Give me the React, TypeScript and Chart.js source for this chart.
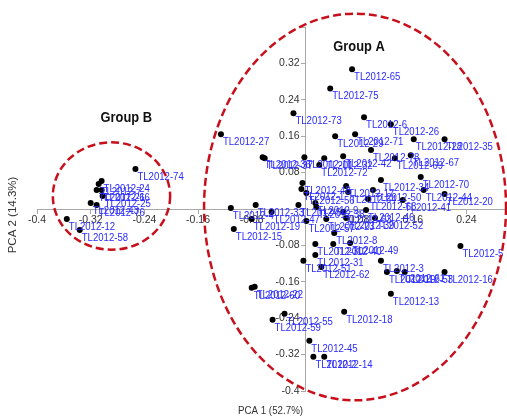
import { useEffect, useRef } from "react";
import { Chart, registerables } from "chart.js";

Chart.register(...registerables);

// ---- data (PCA scores) ----
const LABELS = [
  "TL2012-65", "TL2012-75", "TL2012-73", "TL2012-6", "TL2012-26", "TL2012-27", "TL2012-29", "TL2012-71",
  "TL2012-28", "TL2012-35", "TL2012-78", "TL2012-67", "TL2012-69", "TL2012-36", "TL2012-37", "TL2012-11",
  "TL2012-32", "TL2012-42", "TL2012-72", "TL2012-34", "TL2012-70", "TL2012-44", "TL2012-20", "TL2012-41",
  "TL2012-50", "TL2012-68", "TL2012-17", "TL2012-64", "TL2012-48", "TL2012-56", "TL2012-1", "TL2012-54",
  "TL2012-9", "TL2012-38", "TL2012-63", "TL2012-23", "TL2012-39", "TL2012-46", "TL2012-52", "TL2012-57",
  "TL2012-4", "TL2012-33", "TL2012-19", "TL2012-47", "TL2012-15", "TL2012-8", "TL2012-30", "TL2012-40",
  "TL2012-49", "TL2012-31", "TL2012-51", "TL2012-62", "TL2012-3", "TL2012-10", "TL2012-61", "TL2012-53",
  "TL2012-16", "TL2012-5", "TL2012-13", "TL2012-60", "TL2012-22", "TL2012-55", "TL2012-59", "TL2012-18",
  "TL2012-45", "TL2012-2", "TL2012-14",
  "TL2012-74", "TL2012-24", "TL2012-7", "TL2012-21", "TL2012-66", "TL2012-25", "TL2012-43", "TL2012-76",
  "TL2012-12", "TL2012-58",
];

const PC1 = [
  0.0696, 0.037, -0.0178, 0.0874, 0.1274, -0.1259, 0.0444, 0.0741,
  0.1615, 0.2074, 0.0978, 0.157, 0.1333, -0.0637, -0.0607, -0.0015,
  0.0281, 0.0563, 0.0207, 0.1126, 0.1719, 0.1763, 0.2074, 0.1452,
  0.1007, 0.0933, 0.0607, 0.0637, -0.0044, 0.0015, -0.0059, -0.0104,
  0.0148, 0.0163, 0.0563, 0.0311, 0.0607, 0.0904, 0.1037, 0.0015,
  -0.1111, -0.0741, -0.08, -0.0504, -0.1067, 0.043, 0.0148, 0.0415,
  0.0667, 0.0148, -0.003, 0.0237, 0.1126, 0.1215, 0.1363, 0.1481,
  0.2074, 0.2311, 0.1274, -0.08, -0.0756, -0.0311, -0.0489, 0.0578,
  0.0059, 0.0119, 0.0281,
  -0.2533, -0.3037, -0.3081, -0.3111, -0.3037, -0.3022, -0.32, -0.3111,
  -0.3556, -0.3363,
];

const PC2 = [
  0.307, 0.265, 0.2105, 0.2018, 0.1864, 0.1645, 0.16, 0.1645,
  0.1535, 0.1535, 0.1294, 0.1184, 0.1118, 0.114, 0.1118, 0.114,
  0.1118, 0.1162, 0.0965, 0.0636, 0.0702, 0.0417, 0.0329, 0.0197,
  0.0417, 0.0219, 0.0504, 0.0373, 0.057, 0.0351, 0.0439, 0.0088,
  0.0132, 0.0044, -0.0066, -0.0219, -0.0197, -0.0022, -0.0197, -0.0263,
  0.0022, 0.0088, -0.0219, -0.0066, -0.0439, -0.0526, -0.0768, -0.0768,
  -0.0746, -0.1009, -0.114, -0.1272, -0.114, -0.1382, -0.136, -0.1382,
  -0.1382, -0.0811, -0.1864, -0.1732, -0.1711, -0.2303, -0.2434, -0.2259,
  -0.2895, -0.3246, -0.3246,
  0.0877, 0.0614, 0.0548, 0.0417, 0.0417, 0.0285, 0.0132, 0.0088,
  -0.0219, -0.0461,
];

const X_TICKS = [-0.4, -0.32, -0.24, -0.16, -0.08, 0, 0.08, 0.16, 0.24];
const Y_TICKS = [-0.4, -0.32, -0.24, -0.16, -0.08, 0, 0.08, 0.16, 0.24, 0.32, 0.4];
const X_MIN = -0.4;
const X_MAX = 0.296;
const Y_MIN = -0.4;
const Y_MAX = 0.4;

// group ellipses (data units)
const GROUP_NAMES = ["Group A", "Group B"];
const ELLIPSE_CX = [0.074, -0.289];
const ELLIPSE_CY = [0.0044, 0.0285];
const ELLIPSE_RX = [0.225, 0.0874];
const ELLIPSE_RY = [0.425, 0.118];
const GROUP_LABEL_X = [0.08, -0.267];
const GROUP_LABEL_Y = [0.355, 0.2];

const X_TITLE = "PCA 1 (52.7%)";
const Y_TITLE = "PCA 2 (14.3%)";

const SANS = '"Liberation Sans", Arial, sans-serif';
const LABEL_COLOR = "#2a2aff";
const RED = "#c8101c";
const AXIS_COLOR = "#a8a8a8";
const TICK_TEXT = "#333333";
const SQUEEZE = 0.87;

const fmt = (v: number) => String(Number(v.toFixed(2)));

function squeezedText(ctx: CanvasRenderingContext2D, text: string, x: number, y: number, sx: number) {
  ctx.save();
  ctx.translate(x, y);
  ctx.scale(sx, 1);
  ctx.fillText(text, 0, 0);
  ctx.restore();
}

const overlayPlugin = {
  id: "pcaOverlay",
  afterDatasetsDraw(chart: any) {
    const { ctx } = chart;
    const meta = chart.getDatasetMeta(0);
    ctx.save();
    ctx.font = `11px ${SANS}`;
    ctx.fillStyle = LABEL_COLOR;
    ctx.textAlign = "left";
    ctx.textBaseline = "middle";
    meta.data.forEach((pt: any, i: number) => {
      squeezedText(ctx, LABELS[i], pt.x + 2, pt.y + 8, SQUEEZE);
    });
    ctx.restore();
  },
  afterDraw(chart: any) {
    const { ctx } = chart;
    const xs = chart.scales.x;
    const ys = chart.scales.y;
    ctx.save();
    // ellipses
    ctx.strokeStyle = RED;
    ctx.lineWidth = 2.5;
    ctx.setLineDash([8, 4]);
    for (let g = 0; g < GROUP_NAMES.length; g++) {
      const cx = xs.getPixelForValue(ELLIPSE_CX[g]);
      const cy = ys.getPixelForValue(ELLIPSE_CY[g]);
      const rx = Math.abs(xs.getPixelForValue(ELLIPSE_CX[g] + ELLIPSE_RX[g]) - cx);
      const ry = Math.abs(ys.getPixelForValue(ELLIPSE_CY[g] + ELLIPSE_RY[g]) - cy);
      ctx.beginPath();
      ctx.ellipse(cx, cy, rx, ry, 0, 0, Math.PI * 2);
      ctx.stroke();
    }
    ctx.setLineDash([]);
    // group names
    ctx.fillStyle = "#111111";
    ctx.font = `bold 14px ${SANS}`;
    ctx.textAlign = "center";
    ctx.textBaseline = "middle";
    for (let g = 0; g < GROUP_NAMES.length; g++) {
      squeezedText(
        ctx,
        GROUP_NAMES[g],
        xs.getPixelForValue(GROUP_LABEL_X[g]),
        ys.getPixelForValue(GROUP_LABEL_Y[g]),
        0.92
      );
    }
    // axis titles
    ctx.fillStyle = TICK_TEXT;
    ctx.font = `11.5px ${SANS}`;
    const area = chart.chartArea;
    squeezedText(ctx, X_TITLE, (area.left + area.right) / 2, chart.height - 5, 0.85);
    ctx.translate(13, 215);
    ctx.rotate(-Math.PI / 2);
    ctx.fillText(Y_TITLE, 0, 0);
    ctx.restore();
  },
};

export default function App() {
  const canvasRef = useRef<HTMLCanvasElement | null>(null);

  useEffect(() => {
    const canvas = canvasRef.current;
    if (!canvas) return;
    const points = PC1.map((x, i) => ({ x, y: PC2[i] }));
    const chart = new Chart(canvas, {
      type: "scatter",
      data: {
        datasets: [
          {
            data: points,
            pointRadius: 3,
            pointHoverRadius: 3,
            pointBackgroundColor: "#000000",
            pointBorderColor: "#000000",
            pointBorderWidth: 0,
            clip: false,
          } as any,
        ],
      },
      options: {
        animation: false,
        responsive: true,
        maintainAspectRatio: false,
        events: [],
        layout: { padding: { left: 37, right: 0, top: 27, bottom: 25 } },
        plugins: {
          legend: { display: false },
          tooltip: { enabled: false },
          title: { display: false },
        },
        scales: {
          x: {
            type: "linear",
            min: X_MIN,
            max: X_MAX,
            position: { y: 0 } as any,
            afterBuildTicks: (s: any) => {
              s.ticks = X_TICKS.map((v) => ({ value: v }));
            },
            grid: {
              display: true,
              drawOnChartArea: false,
              drawTicks: true,
              tickLength: 4,
              color: AXIS_COLOR,
            },
            border: { display: true, color: AXIS_COLOR, width: 1 },
            ticks: {
              autoSkip: false,
              maxRotation: 0,
              padding: 1,
              color: TICK_TEXT,
              font: { family: SANS, size: 10.5 },
              callback: (v: any) => (Number(v) === 0 ? "" : fmt(Number(v))),
            },
          },
          y: {
            type: "linear",
            min: Y_MIN,
            max: Y_MAX,
            position: { x: 0 } as any,
            afterBuildTicks: (s: any) => {
              s.ticks = Y_TICKS.map((v) => ({ value: v }));
            },
            grid: {
              display: true,
              drawOnChartArea: false,
              drawTicks: true,
              tickLength: 4,
              color: AXIS_COLOR,
            },
            border: { display: true, color: AXIS_COLOR, width: 1 },
            ticks: {
              autoSkip: false,
              padding: 8,
              color: TICK_TEXT,
              font: { family: SANS, size: 10.5 },
              callback: (v: any) =>
                Number(v) === 0 || Math.abs(Number(v) - Y_MAX) < 1e-9
                  ? ""
                  : fmt(Number(v)) + "\u00a0\u00a0",
            },
          },
        },
      },
      plugins: [overlayPlugin],
    });
    return () => chart.destroy();
  }, []);

  return (
    <div
      style={{
        position: "fixed",
        left: 0,
        top: 0,
        width: 507,
        height: 416,
        background: "#ffffff",
      }}
    >
      <canvas ref={canvasRef} />
    </div>
  );
}
